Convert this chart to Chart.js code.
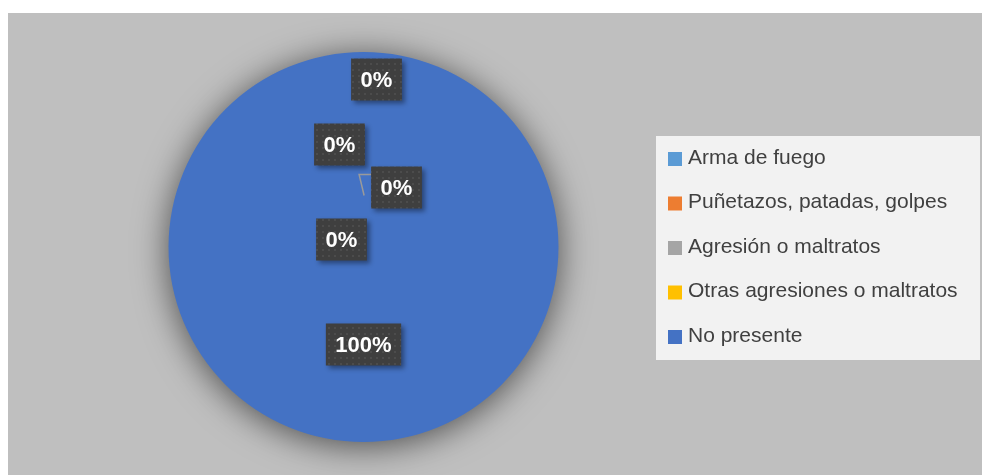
<!DOCTYPE html>
<html>
<head>
<meta charset="utf-8">
<script src="https://cdn.jsdelivr.net/npm/chart.js@4"></script>
<style>
    html, body { margin: 0; padding: 0; background: #ffffff; }
    #wrap { position: absolute; left: 8px; top: 13px; width: 974px; height: 462px; background: #bfbfbf; }
</style>
</head>
<body>
<div id="wrap"><canvas id="pieChart" width="974" height="462"></canvas></div>
<script>
// Data
const categories = ['Arma de fuego', 'Puñetazos, patadas, golpes', 'Agresión o maltratos', 'Otras agresiones o maltratos', 'No presente'];
const values = [0, 0, 0, 0, 100];
const percentLabels = ['0%', '0%', '0%', '0%', '100%'];
const sliceColors = ['#5b9bd5', '#ed7d31', '#a5a5a5', '#ffc000', '#4472c4'];

// Label nudges (Excel moved the 0% labels off the slice by hand)
const labelOffsets = [[13, -70], [-24, -5], [33, 38], [-22, 90], [0, 0]];

// Dotted dark fill for label boxes
function makeLabelPattern(ctx) {
    const tile = document.createElement('canvas');
    tile.width = 6;
    tile.height = 6;
    const t = tile.getContext('2d');
    t.fillStyle = '#3f3f3f';
    t.fillRect(0, 0, 6, 6);
    t.fillStyle = '#4c4c4c';
    t.fillRect(2, 2, 2, 2);
    return ctx.createPattern(tile, 'repeat');
}

// Soft shadow under the pie
const pieShadow = {
    id: 'pieShadow',
    beforeDatasetsDraw(chart) {
        const ctx = chart.ctx;
        ctx.save();
        ctx.shadowColor = 'rgba(0,0,0,0.6)';
        ctx.shadowBlur = 34;
        ctx.shadowOffsetY = 4;
    },
    afterDatasetsDraw(chart) {
        chart.ctx.restore();
    }
};

// Boxed data labels
const boxLabels = {
    id: 'boxLabels',
    afterDatasetsDraw(chart) {
        const ctx = chart.ctx;
        const arcs = chart.getDatasetMeta(0).data;
        const pattern = makeLabelPattern(ctx);
        ctx.save();
        ctx.font = 'bold 22px "Liberation Sans", Arial, sans-serif';
        ctx.textAlign = 'center';
        ctx.textBaseline = 'middle';
        arcs.forEach((arc, i) => {
            const pos = arc.tooltipPosition();
            const cx = pos.x + labelOffsets[i][0];
            const cy = pos.y + labelOffsets[i][1];
            const w = ctx.measureText(percentLabels[i]).width + 19;
            const h = 42;
            const x0 = cx - w / 2;
            const y0 = cy - h / 2;

            // leader line for the label pulled away from its slice
            if (i === 2) {
                ctx.strokeStyle = '#9a9a9a';
                ctx.lineWidth = 1.5;
                ctx.beginPath();
                ctx.moveTo(x0, y0 + 8);
                ctx.lineTo(x0 - 12, y0 + 8);
                ctx.lineTo(x0 - 7, y0 + 29);
                ctx.stroke();
            }

            ctx.save();
            ctx.shadowColor = 'rgba(0,0,0,0.4)';
            ctx.shadowBlur = 5;
            ctx.shadowOffsetX = 3;
            ctx.shadowOffsetY = 3;
            ctx.fillStyle = pattern;
            ctx.fillRect(x0, y0, w, h);
            ctx.restore();

            ctx.fillStyle = '#ffffff';
            ctx.fillText(percentLabels[i], cx, cy + 1);
        });
        ctx.restore();
    }
};

// Legend panel on the right
const boxLegend = {
    id: 'boxLegend',
    afterDraw(chart) {
        const ctx = chart.ctx;
        const left = 648, top = 123, width = 324, height = 224;
        ctx.save();
        ctx.fillStyle = '#f2f2f2';
        ctx.fillRect(left, top, width, height);
        ctx.font = '21px "Liberation Sans", Arial, sans-serif';
        ctx.textBaseline = 'middle';
        ctx.textAlign = 'left';
        chart.data.labels.forEach((label, i) => {
            const y = top + 23 + i * 44.5;
            ctx.fillStyle = chart.data.datasets[0].backgroundColor[i];
            ctx.fillRect(left + 12, y - 7, 14, 14);
            ctx.fillStyle = '#404040';
            ctx.fillText(label, left + 32, y - 1);
        });
        ctx.restore();
    }
};

// Build chart
const ctx = document.getElementById('pieChart').getContext('2d');
const pieChart = new Chart(ctx, {
    type: 'pie',
    data: {
        labels: categories,
        datasets: [{
            data: values,
            backgroundColor: sliceColors,
            borderWidth: 0
        }]
    },
    options: {
        responsive: false,
        animation: false,
        layout: {
            padding: { left: 160, top: 39, right: 423, bottom: 33 }
        },
        plugins: {
            legend: { display: false },
            tooltip: { enabled: false }
        }
    },
    plugins: [pieShadow, boxLabels, boxLegend]
});
</script>
</body>
</html>
